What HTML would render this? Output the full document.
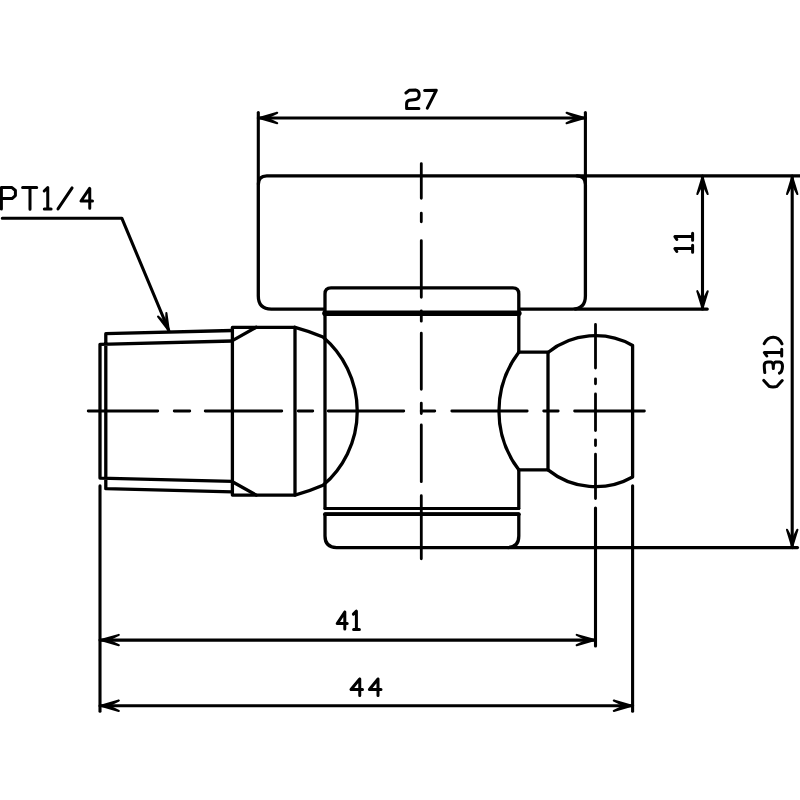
<!DOCTYPE html>
<html><head><meta charset="utf-8"><title>drawing</title>
<style>
html,body{margin:0;padding:0;background:#fff;}
body{width:800px;height:800px;overflow:hidden;font-family:"Liberation Sans",sans-serif;}
svg{display:block;}
</style></head>
<body>
<svg width="800" height="800" viewBox="0 0 800 800" fill="none" stroke="#000" stroke-linecap="round" stroke-linejoin="round">
<rect width="800" height="800" fill="#fff" stroke="none"/>
<path d="M258.30,112.50L258.30,184.00" stroke-width="3.1"/>
<path d="M585.40,112.50L585.40,185.00" stroke-width="3.1"/>
<path d="M258.30,118.00L585.40,118.00" stroke-width="3.1"/>
<path d="M277.20,112.80L259.20,118.00L277.20,123.20L266.40,118.00Z" stroke-width="2.1" fill="#000"/>
<path d="M566.60,123.20L584.60,118.00L566.60,112.80L577.40,118.00Z" stroke-width="2.1" fill="#000"/>
<path d="M405.9,93.0L409.15,90.3L415.6,90.1Q419.2,90.6 419.2,95.0Q419.2,98.9 415.6,99.4L409.2,100.3Q406.6,101 406.6,104L406.6,108.4L418.9,108.4" stroke-width="3.0"/>
<path d="M424.6,90.5L436.3,90.3L427.3,108.1" stroke-width="3.0"/>
<path d="M266.8,175.9L576.9,175.9Q585.4,175.9 585.4,184.4L585.4,296.1Q585.4,309.1 572.4,309.1L271.3,309.1Q258.3,309.1 258.3,296.1L258.3,184.4Q258.3,175.9 266.8,175.9Z" stroke-width="3.3" fill="#fff"/>
<path d="M577.00,175.90L800.00,175.90" stroke-width="3.1"/>
<path d="M575.00,309.10L707.30,309.10" stroke-width="3.1"/>
<path d="M508.00,547.60L797.50,547.60" stroke-width="3.1"/>
<path d="M702.50,176.00L702.50,309.00" stroke-width="3.1"/>
<path d="M707.70,194.00L702.50,177.00L697.30,194.00L702.50,183.80Z" stroke-width="2.1" fill="#000"/>
<path d="M697.30,291.20L702.50,308.20L707.70,291.20L702.50,301.40Z" stroke-width="2.1" fill="#000"/>
<path d="M676.8,251.5L674.9,248.6L692.4,248.6M692.6,245.2L692.6,252.2" stroke-width="3.0"/>
<path d="M676.8,239.5L674.9,236.6L692.4,236.6M692.6,233.2L692.6,240.2" stroke-width="3.0"/>
<path d="M792.20,176.00L792.20,547.60" stroke-width="3.1"/>
<path d="M797.40,194.00L792.20,177.00L787.00,194.00L792.20,183.80Z" stroke-width="2.1" fill="#000"/>
<path d="M787.00,529.80L792.20,546.80L797.40,529.80L792.20,540.00Z" stroke-width="2.1" fill="#000"/>
<path d="M764.2,343.6Q767.5,337.3 773.2,337.3Q779,337.3 782,343.8" stroke-width="3.0"/>
<path d="M766.8,356L764.4,352.6L781.4,352.6M781.7,349.3L781.7,356" stroke-width="3.0"/>
<path d="M764.8,372.6Q764,366 764.4,364.2Q765.2,361.9 768,361.9L771,361.9Q773.3,362.3 773.3,368.4Q773.3,362.3 775.6,361.9L779.6,361.9Q782.5,362.3 782.5,366.2Q782.4,371.8 779.4,373.2" stroke-width="3.0"/>
<path d="M763.8,380.4L769.3,386.4Q770.5,387 773,387Q775.5,387 776.8,386.4L782.2,380.6" stroke-width="3.0"/>
<path d="M325.0,313.3L325.0,293.9Q325.0,287.9 331.0,287.9L512.8,287.9Q518.8,287.9 518.8,293.9L518.8,313.3Z" stroke-width="3.3" fill="#fff"/>
<path d="M325.00,313.30L518.80,313.30" stroke-width="5.6"/>
<path d="M325.00,313.30L325.00,508.40" stroke-width="3.3"/>
<path d="M518.80,313.30L518.80,352.20" stroke-width="3.3"/>
<path d="M518.80,469.80L518.80,508.40" stroke-width="3.3"/>
<path d="M325.00,508.50L518.80,508.50" stroke-width="2.8"/>
<path d="M325.0,514.2L518.8,514.2L518.8,536.1Q518.8,547.6 507.29999999999995,547.6L336.5,547.6Q325.0,547.6 325.0,536.1Z" stroke-width="3.3" fill="none"/>
<path d="M325.00,514.20L518.80,514.20" stroke-width="3.8"/>
<path d="M232.4,327.3L295.0,327.3M232.4,495.09999999999997L295.0,495.09999999999997M232.4,327.3L232.4,495.09999999999997M295.0,327.3L295.0,495.09999999999997" stroke-width="3.3"/>
<path d="M232.4,340.6L256.2,327.3M232.4,481.79999999999995L256.2,495.09999999999997" stroke-width="3.3"/>
<path d="M295.0,327.3Q310,331.3 323,337.05A97.4,97.4 0 0 1 323,485.35Q310,491.09999999999997 295.0,495.09999999999997" stroke-width="3.3" fill="none"/>
<path d="M105.8,333.7L232.4,330.5M100,344.3L232.4,341.0M105.8,488.7L232.4,491.9M100,478.09999999999997L232.4,481.4M105.8,333.7L105.8,488.7M100,344.3L100,478.09999999999997" stroke-width="3.3"/>
<path d="M518.8,352.2L548.0,352.2M518.8,469.8L548.0,469.8M548.0,352.2L548.0,469.8" stroke-width="3.3"/>
<path d="M518.8,352.2A97.0,97.0 0 0 0 518.8,469.8" stroke-width="3.3" fill="none"/>
<path d="M548.0,352.51A75.5,75.5 0 0 1 632.6,345.44L632.6,476.96A75.5,75.5 0 0 1 548.0,469.89" stroke-width="3.3" fill="none"/>
<path d="M100.00,485.90L100.00,711.20" stroke-width="3.1"/>
<path d="M632.60,485.80L632.60,711.30" stroke-width="3.1"/>
<path d="M595.50,508.00L595.50,646.00" stroke-width="3.1"/>
<path d="M100.00,640.10L595.50,640.10" stroke-width="3.1"/>
<path d="M118.80,634.90L100.80,640.10L118.80,645.30L108.00,640.10Z" stroke-width="2.1" fill="#000"/>
<path d="M576.70,645.30L594.70,640.10L576.70,634.90L587.50,640.10Z" stroke-width="2.1" fill="#000"/>
<path d="M344.8,612L337.2,623.6L347.2,623.6M344.8,612L344.8,629" stroke-width="3.0"/>
<path d="M353.4,614.1L356.4,611.2L356.4,629.5M353.6,629.6L359.4,629.6" stroke-width="3.0"/>
<path d="M100.00,705.70L632.60,705.70" stroke-width="3.1"/>
<path d="M118.80,700.50L100.80,705.70L118.80,710.90L108.00,705.70Z" stroke-width="2.1" fill="#000"/>
<path d="M613.80,710.90L631.80,705.70L613.80,700.50L624.60,705.70Z" stroke-width="2.1" fill="#000"/>
<path d="M359.7,679L351,689.5L362.5,689.5M359.75,679L359.75,695.6" stroke-width="3.0"/>
<path d="M378,679L369.4,689.5L381,689.5M378,679L378,695.6" stroke-width="3.0"/>
<path d="M2.3,218.2L121.8,218.2L168.8,330.5" stroke-width="3.1" fill="none"/>
<path d="M158.09,316.56L168.80,330.50L166.39,313.08L166.17,324.23Z" stroke-width="2.1" fill="#000"/>
<path d="M1.4,209L1.4,187.6L12,187.6L15.4,190.5L15.4,195.6L12,198.6L1.4,198.6" stroke-width="3.0"/>
<path d="M22.6,187.6L36.7,187.6M30,187.6L30,209.3" stroke-width="3.0"/>
<path d="M44.2,191L47.75,187.6L47.75,208.9M44.3,208.9L51.1,208.9" stroke-width="3.0"/>
<path d="M58,208.9L72.1,187.9" stroke-width="3.0"/>
<path d="M89.6,188.4L81,201L92.5,201M89.75,188.4L89.75,208.2" stroke-width="3.0"/>
<path d="M88.20,411.00L157.80,411.00M174.20,411.00L189.80,411.00M205.20,411.00L281.80,411.00M298.20,411.00L312.80,411.00M328.20,411.00L403.80,411.00M421.20,411.00L434.80,411.00M451.80,411.00L527.20,411.00M543.70,411.00L558.20,411.00M574.60,411.00L644.40,411.00" stroke-width="2.8"/>
<path d="M421.30,163.60L421.30,198.30M421.30,213.20L421.30,221.80M421.30,240.60L421.30,297.30M421.30,310.95L421.30,321.20M421.30,333.20L421.30,389.30M421.30,403.20L421.30,413.60M421.30,424.95L421.30,481.70M421.30,495.70L421.30,558.80" stroke-width="2.8"/>
<path d="M595.50,324.45L595.50,368.10M595.50,378.80L595.50,383.80M595.50,393.90L595.50,430.50M595.50,439.80L595.50,445.60M595.50,454.20L595.50,498.60" stroke-width="2.8"/>
</svg>
</body></html>
